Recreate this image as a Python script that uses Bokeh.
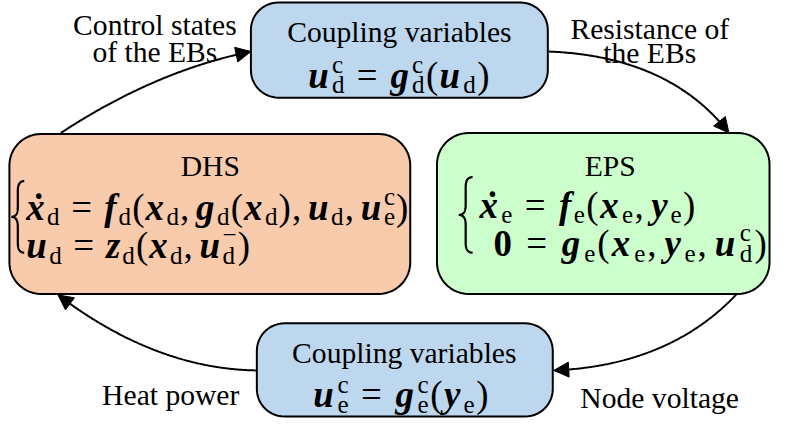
import numpy as np
from bokeh.plotting import figure
from bokeh.models import Range1d, ColumnDataSource, Arrow, NormalHead
from bokeh.core.properties import value
from bokeh.embed import file_html
from bokeh.resources import INLINE

FONT = "Liberation Serif"

# ---------------- content ----------------
box_titles = ["Coupling variables", "DHS", "EPS", "Coupling variables"]
box_fill = ["#BDD7EE", "#F8CBAD", "#CCFFCC", "#BDD7EE"]
label_lines = [["Control states", "of the EBs"],
               ["Resistance of", "the EBs"],
               ["Node voltage"],
               ["Heat power"]]


def V(ch, sub=None, sup=None, dot=False):
    return ("v", ch, sub, sup, dot)


def O(ch):
    return ("o", ch)


def B(ch):
    return ("b", ch)


eq_top = [V("u", "d", "c"), O("="), V("g", "d", "c"), O("("), V("u", "d"), O(")")]
eq_bottom = [V("u", "e", "c"), O("="), V("g", "e", "c"), O("("), V("y", "e"), O(")")]
eq_dhs_1 = [V("x", "d", dot=True), O("="), V("f", "d"), O("("), V("x", "d"), O(","),
            V("g", "d"), O("("), V("x", "d"), O(")"), O(","), V("u", "d"), O(","),
            V("u", "e", "c"), O(")")]
eq_dhs_2 = [V("u", "d"), O("="), V("z", "d"), O("("), V("x", "d"), O(","),
            V("u", "d", "\u2212"), O(")")]
eq_eps_1 = [V("x", "e", dot=True), O("="), V("f", "e"), O("("), V("x", "e"), O(","),
            V("y", "e"), O(")")]
eq_eps_2 = [B("0"), O("="), V("g", "e"), O("("), V("x", "e"), O(","), V("y", "e"),
            O(","), V("u", "d", "c"), O(")")]

# ---------------- layout (reference pixel geometry) ----------------
box_l = [257, 13, 445, 263]
box_r = [557, 418, 781, 562]
box_t = [5, 139, 138, 332]
box_b = [102, 302, 302, 427]
box_rad = [28, 32, 32, 28]
title_x = [407, 216, 620, 412]
title_y = [35, 172, 172, 362]

eq_layout = [(eq_top, 315, 498, 79), (eq_bottom, 320, 497, 405),
             (eq_dhs_1, 30, 416, 214), (eq_dhs_2, 30, 256, 253),
             (eq_eps_1, 488, 706, 212), (eq_eps_2, 502, 778, 251)]

braces = [(15, 28, 187, 260), (467, 481, 183, 260)]

arrows = [((65, 138), (160, 75), (257, 55)),
          ((558, 55), (680, 60), (740, 138)),
          ((748, 302), (680, 375), (563, 380)),
          ((262, 380), (160, 378), (62, 303))]

label_x = [160, 660, 670, 176]
label_base = [[28, 55], [32, 57], [408], [405]]

FS = 0.985
S = 37.5 * FS
s = 25.5 * FS
TITLE = 30 * FS
REL, COMMA, ITAL = 0.26, 0.15, 0.02
SUB_DY, SUP_DY = 0.26, -0.30
DOT = "\u02d9"

W = {
    "normal": {"(": 333, ")": 333, ",": 250, "=": 564, "d": 500, "e": 444,
               "c": 444, "\u2212": 564},
    "bold italic": {"x": 500, "u": 556, "f": 333, "g": 500, "z": 389, "y": 444},
    "bold": {"0": 500},
}


def wid(ch, style, size):
    return W[style][ch] * size / 1000.0


def layout_eq(atoms, x0, x1, base):
    glyphs, dots = [], []
    cum = 0.0
    for a in atoms:
        if a[0] == "o":
            ch = a[1]
            if ch == "=":
                cum += REL * S
            glyphs.append([cum, 0.0, ch, "normal", S])
            cum += wid(ch, "normal", S)
            if ch == "=":
                cum += REL * S
            elif ch == ",":
                cum += COMMA * S
        elif a[0] == "b":
            glyphs.append([cum, 0.0, a[1], "bold", S])
            cum += wid(a[1], "bold", S)
        else:
            _, ch, sub, sup, dot = a
            glyphs.append([cum, 0.0, ch, "bold italic", S])
            w = wid(ch, "bold italic", S)
            if dot:
                dots.append(cum + 0.62 * w)
            cum += w
            ws = 0.0
            if sub or sup:
                cum += ITAL * S
            if sub:
                glyphs.append([cum, SUB_DY * S, sub, "normal", s])
                ws = wid(sub, "normal", s)
            if sup:
                glyphs.append([cum, SUP_DY * S, sup, "normal", s])
                ws = max(ws, wid(sup, "normal", s))
            cum += ws
    last = glyphs[-1]
    k = (x1 - x0 - wid(last[2], last[3], last[4])) / last[0]
    out = [(x0 + k * g[0], base + g[1], g[2], g[3], g[4]) for g in glyphs]
    dts = [(x0 + k * d, base) for d in dots]
    return out, dts


def rounded_rect(l, r, t, b, rad, n=14):
    xs, ys = [], []
    for cx, cy, a0, a1 in [(r - rad, t + rad, -90, 0), (r - rad, b - rad, 0, 90),
                           (l + rad, b - rad, 90, 180), (l + rad, t + rad, 180, 270)]:
        ang = np.radians(np.linspace(a0, a1, n))
        xs.extend(cx + rad * np.cos(ang))
        ys.extend(cy + rad * np.sin(ang))
    return xs, ys


def quad(p0, c, p2, n=40):
    t = np.linspace(0, 1, n)[:, None]
    return (1 - t) ** 2 * np.array(p0) + 2 * (1 - t) * t * np.array(c) + t ** 2 * np.array(p2)


# ---------------- figure ----------------
p = figure(width=771, height=418, x_range=Range1d(4, 783), y_range=Range1d(429, 3),
           output_backend="svg", toolbar_location=None, min_border=0,
           x_axis_location=None, y_axis_location=None)
p.grid.visible = False
p.outline_line_color = None
p.background_fill_color = "white"
p.border_fill_color = "white"

# arrows
for p0, c, p2 in arrows:
    pts = quad(p0, c, p2, 200)
    d = np.sqrt(((pts - np.array(p2)) ** 2).sum(axis=1))
    keep = pts[d > 8]
    p.line(keep[:, 0], keep[:, 1], line_color="black", line_width=2)
    tip = np.array(p2, dtype=float)
    back = keep[-1]
    u = (tip - back) / np.linalg.norm(tip - back)
    st = tip - u * 4
    p.add_layout(Arrow(end=NormalHead(size=15, fill_color="black", line_color="black", line_width=1),
                       x_start=st[0], y_start=st[1], x_end=tip[0], y_end=tip[1],
                       line_alpha=0))

# boxes
bx, by = [], []
for i in range(len(box_titles)):
    xs, ys = rounded_rect(box_l[i], box_r[i], box_t[i], box_b[i], box_rad[i])
    bx.append(xs)
    by.append(ys)
p.patches(bx, by, fill_color=box_fill, line_color="black", line_width=2)

# box titles
p.text(x=title_x, y=title_y, text=box_titles, text_font=value(FONT),
       text_font_size=value(f"{TITLE:.1f}px"), text_align="center",
       text_baseline="alphabetic", text_color="black")

# arrow labels
lx, ly, lt = [], [], []
for i, lines in enumerate(label_lines):
    for j, ln in enumerate(lines):
        lx.append(label_x[i])
        ly.append(label_base[i][j])
        lt.append(ln)
p.text(x=lx, y=ly, text=lt, text_font=value(FONT), text_font_size=value(f"{TITLE:.1f}px"),
       text_align="center", text_baseline="alphabetic", text_color="black")

# equations
groups = {}
dot_x, dot_y = [], []
for atoms, x0, x1, base in eq_layout:
    gl, dts = layout_eq(atoms, x0, x1, base)
    for gx, gy, gt, gs, gz in gl:
        groups.setdefault((gs, gz), {"x": [], "y": [], "text": []})
        groups[(gs, gz)]["x"].append(gx)
        groups[(gs, gz)]["y"].append(gy)
        groups[(gs, gz)]["text"].append(gt)
    for dx, dy in dts:
        dot_x.append(dx)
        dot_y.append(dy)
for (gs, gz), data in groups.items():
    p.text(x="x", y="y", text="text", source=ColumnDataSource(data), text_font=value(FONT),
           text_font_size=value(f"{gz:.1f}px"), text_font_style=gs, text_align="left",
           text_baseline="alphabetic", text_color="black")
p.text(x=dot_x, y=dot_y, text=[DOT] * len(dot_x), text_font=value(FONT),
       text_font_size=value(f"{S:.1f}px"), text_font_style="bold", text_align="center",
       text_baseline="alphabetic", text_color="black")

# braces
for xl, xr, yt, yb in braces:
    xm, ym = (xl + xr) / 2, (yt + yb) / 2
    q = 10
    parts = [quad((xr, yt), (xm, yt), (xm, yt + q)),
             quad((xm, ym - q), (xm, ym), (xl, ym)),
             quad((xl, ym), (xm, ym), (xm, ym + q)),
             quad((xm, yb - q), (xm, yb), (xr, yb))]
    pts = np.vstack(parts)
    p.line(pts[:, 0], pts[:, 1], line_color="black", line_width=2.2)

open("out.html", "w").write(file_html(p, INLINE))
